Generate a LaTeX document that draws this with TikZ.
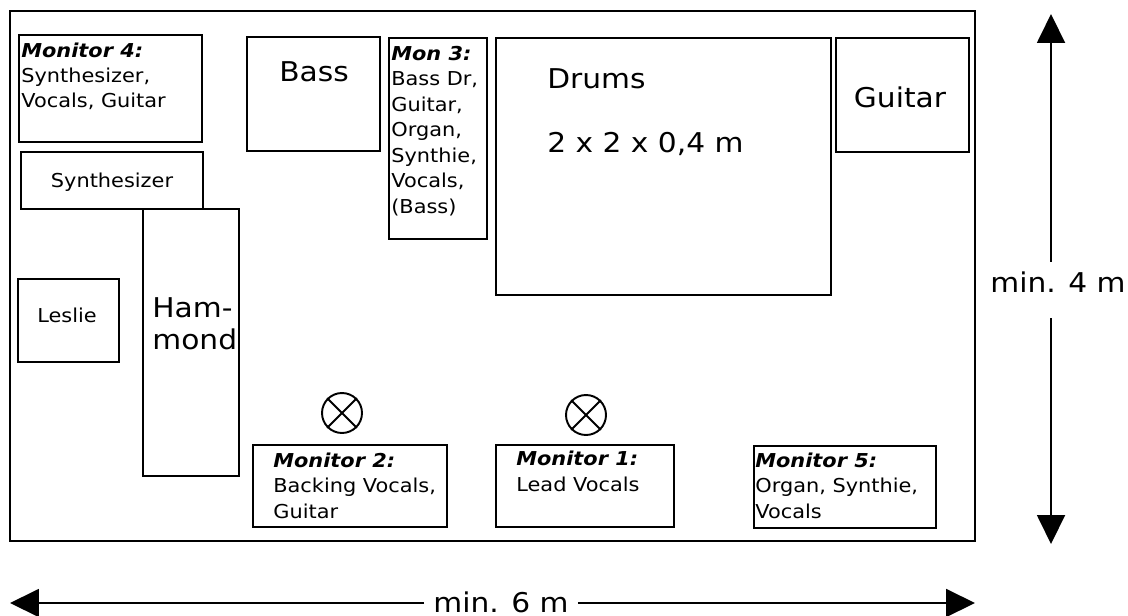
\documentclass[tikz,border=0pt]{standalone}
\usepackage{fontspec}
\setmainfont{DejaVu Sans}[FakeStretch=1.09]
\usetikzlibrary{arrows.meta}

\begin{document}
\begin{tikzpicture}[x=0.02cm,y=-0.02cm,
		box/.style={line width=1.1pt},
		smalltext/.style={font=\fontsize{10.9}{14.5}\selectfont,inner sep=0pt,align=left},
		bigtext/.style={font=\fontsize{15.5}{18.1}\selectfont,inner sep=0pt,align=left},
		speaker/.style={draw,circle,line width=1.1pt,minimum size=0.8cm,inner sep=0pt},
		dimline/.style={line width=1.1pt,-{Triangle[length=0.58cm,width=0.56cm]}}]
		\useasboundingbox (0,0) rectangle (1128,615);
		\draw [box] (10,11) rectangle (975,541);
		\draw [box] (19,35) rectangle (202,142);
		\draw [box] (21,152) rectangle (203,209);
		\draw [box] (143,209) rectangle (239,476);
		\draw [box] (18,279) rectangle (119,362);
		\draw [box] (247,37) rectangle (380,151);
		\draw [box] (389,38) rectangle (487,239);
		\draw [box] (496,38) rectangle (831,295);
		\draw [box] (836,38) rectangle (969,152);
		\draw [box] (253,445) rectangle (447,527);
		\draw [box] (496,445) rectangle (674,527);
		\draw [box] (754,446) rectangle (936,528);
		\node [smalltext,anchor=base west] (mon4) at (21,108) {\bfseries\itshape Monitor 4:\\Synthesizer,\\Vocals, Guitar};
		\node [smalltext,anchor=base] (synth) at (112,187) {Synthesizer};
		\node [smalltext,anchor=base] (leslie) at (67,322) {Leslie};
		\node [bigtext,anchor=base west] (hammond) at (152,349) {Ham-\\mond};
		\node [bigtext,anchor=base] (bass) at (314,82) {Bass};
		\node [smalltext,anchor=base west] (mon3) at (391,213) {\bfseries\itshape Mon 3:\\Bass Dr,\\Guitar,\\Organ,\\Synthie,\\Vocals,\\(Bass)};
		\node [bigtext,anchor=base west] (drums) at (547,89) {Drums};
		\node [bigtext,anchor=base west] (drumsize) at (547,152) {2 x 2 x 0,4 m};
		\node [bigtext,anchor=base] (guitar) at (900,108) {Guitar};
		\node [smalltext,anchor=base west] (mon2) at (273,518) {\bfseries\itshape Monitor 2:\\Backing Vocals,\\Guitar};
		\node [smalltext,anchor=base west] (mon1) at (516,491) {\bfseries\itshape Monitor 1:\\Lead Vocals};
		\node [smalltext,anchor=base west] (mon5) at (755,518) {\bfseries\itshape Monitor 5:\\Organ, Synthie,\\Vocals};
		\node [speaker] (spk2) at (342,413) {};
		\node [speaker] (spk1) at (586,415) {};
		\draw [line width=1.1pt] (spk2.north west) -- (spk2.south east) (spk2.north east) -- (spk2.south west);
		\draw [line width=1.1pt] (spk1.north west) -- (spk1.south east) (spk1.north east) -- (spk1.south west);
		\coordinate (top4) at (1051,14);
		\coordinate (bot4) at (1051,544);
		\node [bigtext,anchor=base,text height=0.6cm,text depth=0.52cm] (width4) at (1058,292) {min. 4 m};
		\draw [dimline] (top4 |- width4.north) -- (top4);
		\draw [dimline] (bot4 |- width4.south) -- (bot4);
		\coordinate (left6) at (10,603);
		\coordinate (right6) at (975,603);
		\node [bigtext,anchor=base,inner xsep=0.18cm] (width6) at (501,612) {min. 6 m};
		\draw [dimline] (left6 -| width6.west) -- (left6);
		\draw [dimline] (right6 -| width6.east) -- (right6);
\end{tikzpicture}
\end{document}
